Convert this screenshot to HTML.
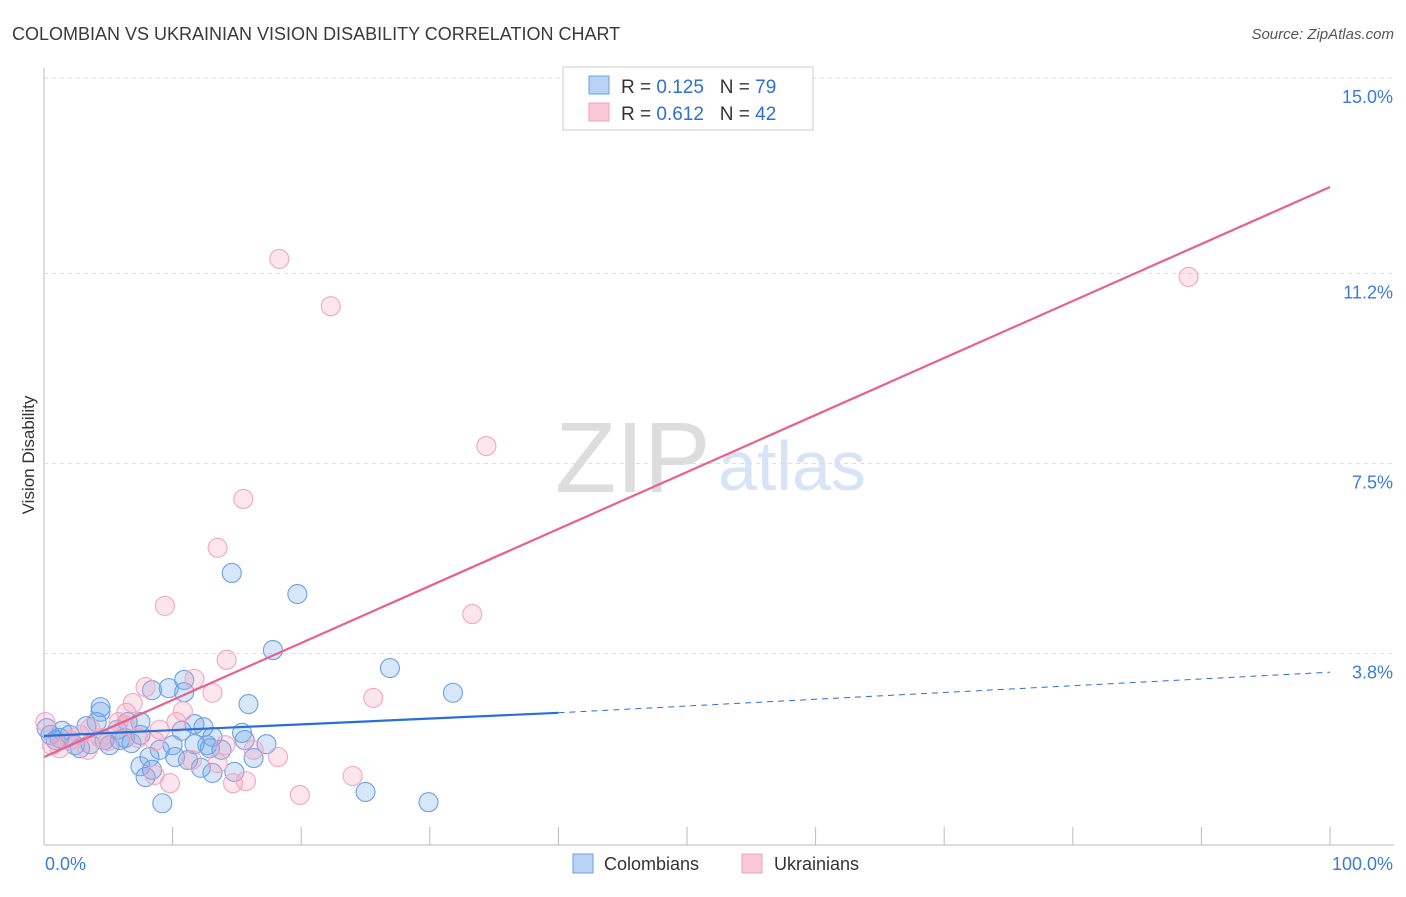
<!DOCTYPE html>
<html><head><meta charset="utf-8"><style>
body{margin:0;background:#fff;font-family:"Liberation Sans",sans-serif;}
svg text{font-family:"Liberation Sans",sans-serif;}
</style></head><body>
<svg id="chart" width="1406" height="892">
<text x="12" y="40" font-size="18" fill="#3a3a3a">COLOMBIAN VS UKRAINIAN VISION DISABILITY CORRELATION CHART</text>
<text x="1394" y="39" font-size="15" fill="#555" font-style="italic" text-anchor="end">Source: ZipAtlas.com</text>
<text x="34" y="455" font-size="17" fill="#333" transform="rotate(-90 34 455)" text-anchor="middle">Vision Disability</text>
<text x="555" y="492" font-size="100" fill="#ddd" font-family="Liberation Serif">ZIP</text>
<text x="718" y="490" font-size="70" fill="#d6e4f5">atlas</text>
<g id="grid"></g><g id="pts"></g><g id="lines"></g>
<g>
<rect x="563" y="67" width="250" height="63" fill="#fff" stroke="#ccc"/>
<rect x="589" y="76" width="20" height="18" fill="#b8d3f5" stroke="#6a9fe0"/>
<text x="621" y="93" font-size="19" fill="#333" xml:space="preserve">R = <tspan fill="#2f6fd0">0.125</tspan>   N = <tspan fill="#2f6fd0">79</tspan></text>
<rect x="589" y="103" width="20" height="18" fill="#fbc8d8" stroke="#f0a0b8"/>
<text x="621" y="120" font-size="19" fill="#333" xml:space="preserve">R = <tspan fill="#2f6fd0">0.612</tspan>   N = <tspan fill="#2f6fd0">42</tspan></text>
</g>
<g>
<rect x="573" y="854" width="20" height="19" fill="#b8d3f5" stroke="#6a9fe0"/>
<text x="604" y="870" font-size="18" fill="#333">Colombians</text>
<rect x="742" y="854" width="20" height="19" fill="#fbc8d8" stroke="#f0a0b8"/>
<text x="774" y="870" font-size="18" fill="#333">Ukrainians</text>
</g>
</svg>
<script>
const yTicks=[3.8,7.5,11.2,15.0];
const yTickLabels=["3.8%","7.5%","11.2%","15.0%"];
const xTickLabels=["0.0%","100.0%"];
const blueX=[14.6,19.7,17.8,26.9,31.8,15.9,10.9,9.7,8.4,10.9,4.4,4.4,7.5,6.5,4.1,3.3,12.4,11.7,15.4,10.7,13.1,15.6,17.3,1.4,2.0,0.5,0.9,2.4,3.6,5.9,6.3,6.8,9.0,10.0,11.7,12.7,13.8,10.2,8.2,11.2,16.3,7.5,8.4,12.2,13.1,7.9,14.8,25.0,9.2,29.9,2.8,5.1,5.7,0.2,7.5,12.9,4.7,1.2];
const blueY=[5.37,4.96,3.87,3.52,3.04,2.82,3.29,3.13,3.09,3.05,2.76,2.67,2.47,2.47,2.47,2.39,2.37,2.43,2.26,2.30,2.18,2.12,2.04,2.30,2.22,2.22,2.12,2.02,2.04,2.12,2.16,2.06,1.93,2.02,2.04,2.02,1.93,1.79,1.79,1.73,1.77,1.61,1.54,1.58,1.48,1.40,1.50,1.11,0.89,0.91,1.96,2.02,2.32,2.35,2.22,1.96,2.12,2.16];
const pinkX=[18.3,22.3,34.4,89.0,15.5,13.5,9.4,33.3,14.2,11.7,7.9,13.1,25.6,6.9,10.8,10.3,6.4,5.8,8.6,14.1,16.3,18.2,11.5,13.5,8.6,24.0,9.8,14.7,15.7,19.9,1.2,3.4,0.1,4.4,2.0,5.0,7.3,0.6,2.8,6.3,9.0,3.6];
const pinkY=[11.48,10.56,7.84,11.13,6.81,5.86,4.73,4.57,3.68,3.31,3.15,3.04,2.94,2.84,2.68,2.47,2.65,2.47,2.10,2.02,1.93,1.79,1.73,1.67,1.44,1.42,1.28,1.28,1.32,1.05,1.96,1.93,2.47,2.16,2.12,2.10,2.16,2.02,2.22,2.41,2.32,2.35];
const blueFit=[2.2,2.65,3.44]; // at x=0, 40, 100
const pinkFit=[1.79,12.88]; // at x=0,100
const X=v=>44+v*12.86, Y=v=>849-v*51.4;
const NS="http://www.w3.org/2000/svg";
function mk(t,a,p){const e=document.createElementNS(NS,t);for(const k in a)e.setAttribute(k,a[k]);p.appendChild(e);return e;}
const g=document.getElementById('grid');
mk('line',{x1:44,y1:68,x2:44,y2:845,stroke:'#bbb'},g);
mk('line',{x1:44,y1:845,x2:1394,y2:845,stroke:'#bbb'},g);
for(let i=0;i<=10;i++){const l=mk('line',{x1:X(i*10),y1:827,x2:X(i*10),y2:845,stroke:'#bbb'},g);

}
yTicks.forEach((t,i)=>{
const l=mk('line',{x1:44,y1:Y(t),x2:1394,y2:Y(t),stroke:'#ddd','stroke-dasharray':'4,4'},g);


const tx=mk('text',{x:1393,y:Y(t)+25,'font-size':18,fill:'#3a7bd5','text-anchor':'end'},g);tx.textContent=yTickLabels[i];

});
const t0=mk('text',{x:45,y:870,'font-size':18,fill:'#3a7bd5'},g);t0.textContent=xTickLabels[0];


const t1=mk('text',{x:1393,y:870,'font-size':18,fill:'#3a7bd5','text-anchor':'end'},g);t1.textContent=xTickLabels[1];


const p=document.getElementById('pts');
blueX.forEach((x,i)=>{const c=mk('circle',{cx:X(x),cy:Y(blueY[i]),r:9.5,fill:'rgba(110,165,235,0.28)',stroke:'#6da0e4','stroke-width':1.1},p);

});
pinkX.forEach((x,i)=>{const c=mk('circle',{cx:X(x),cy:Y(pinkY[i]),r:9.5,fill:'rgba(245,160,190,0.28)',stroke:'#f0a8bf','stroke-width':1.1},p);

});
const L=document.getElementById('lines');
const pl=mk('line',{x1:X(0),y1:Y(pinkFit[0]),x2:X(100),y2:Y(pinkFit[1]),stroke:'#e8608e','stroke-width':2.2},L);


const bl=mk('line',{x1:X(0),y1:Y(blueFit[0]),x2:X(40),y2:Y(blueFit[1]),stroke:'#2a6fd6','stroke-width':2.2},L);


const bd=mk('line',{x1:X(40),y1:Y(blueFit[1]),x2:X(100),y2:Y(blueFit[2]),stroke:'#2a6fd6','stroke-width':1,'stroke-dasharray':'6,5'},L);


</script>
</body></html>
